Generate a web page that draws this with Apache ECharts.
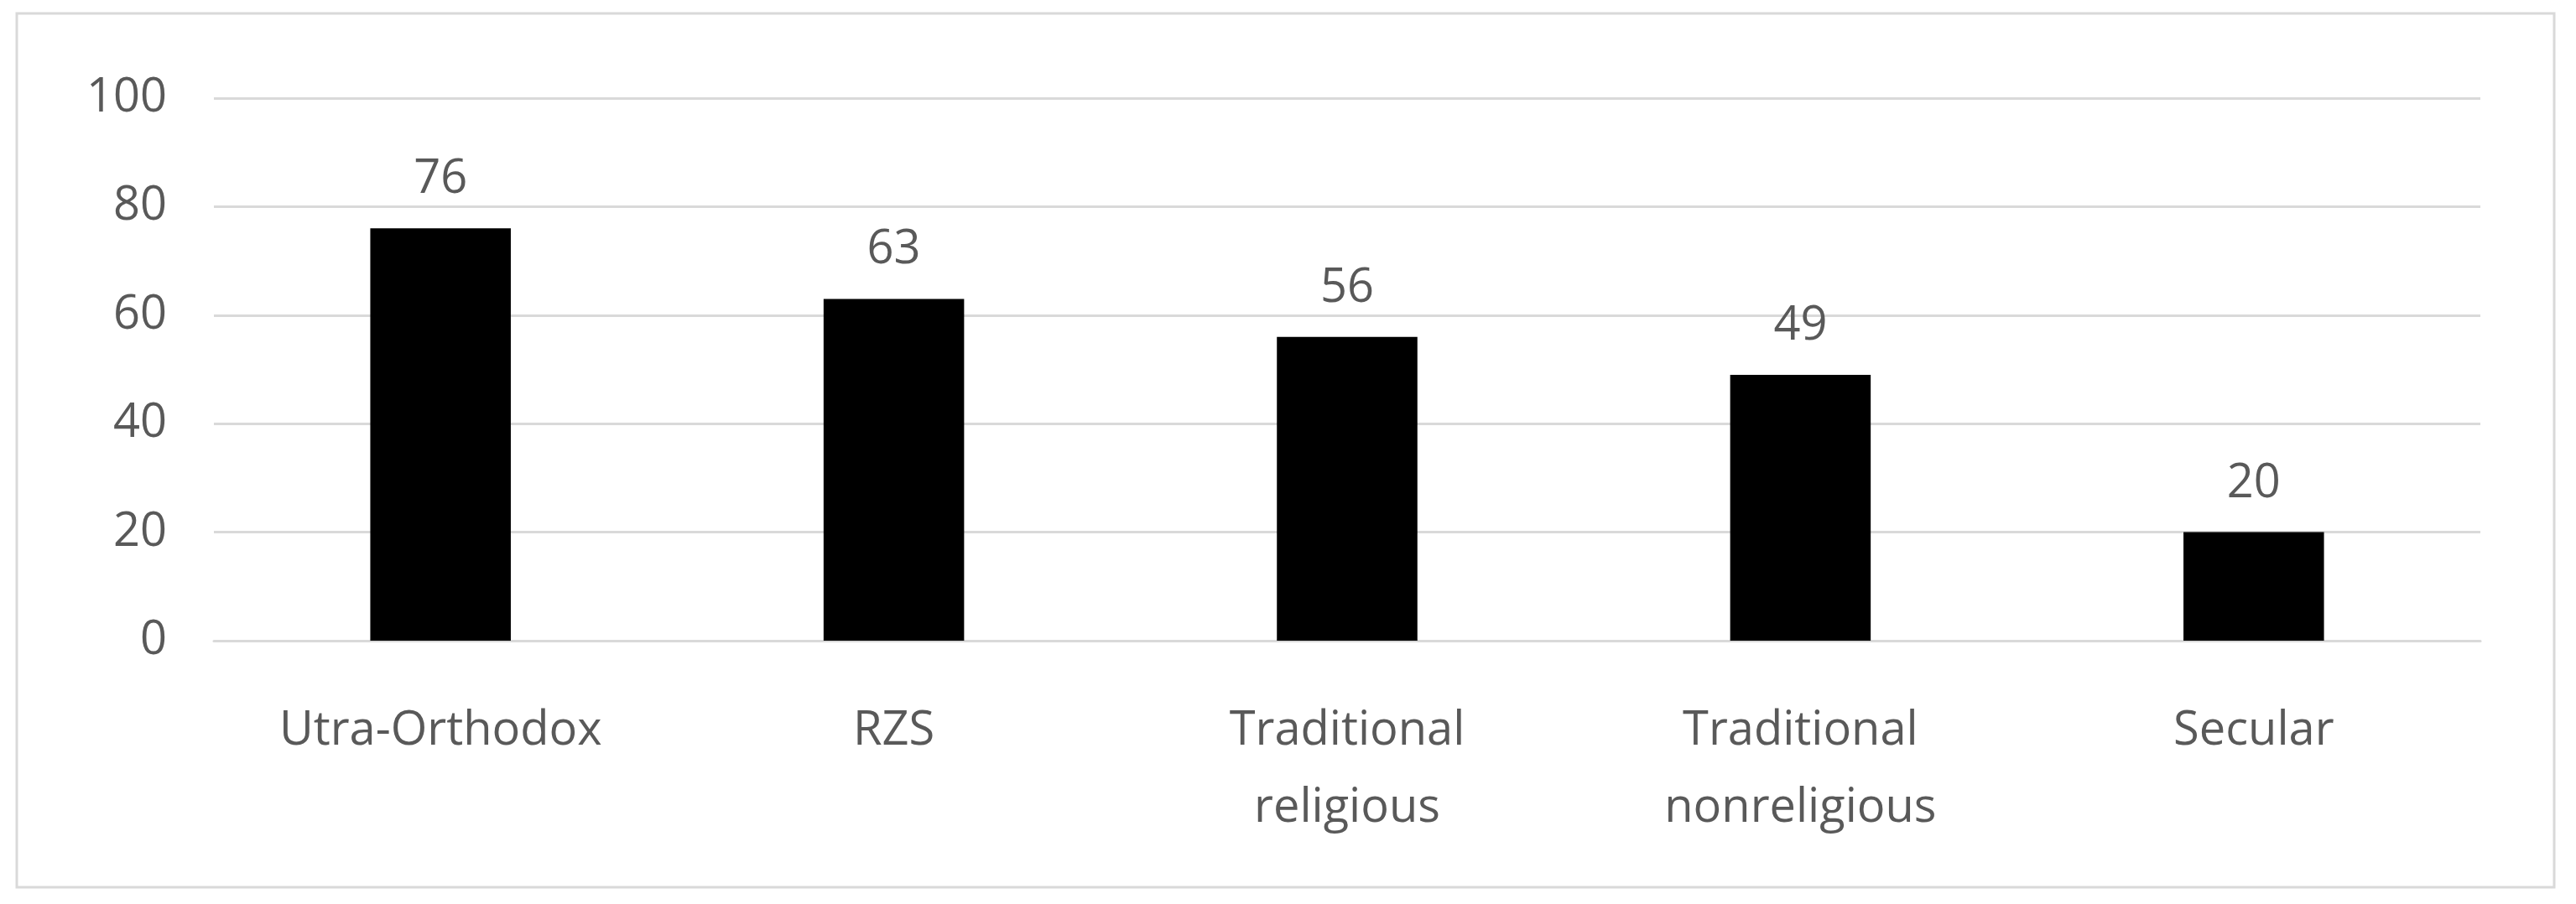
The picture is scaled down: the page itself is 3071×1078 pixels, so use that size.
<!DOCTYPE html>
<html>
<head>
<meta charset="utf-8">
<style>
html,body{margin:0;padding:0;background:#fff;}
#main{width:3071px;height:1078px;}
</style>
<script src="https://cdn.jsdelivr.net/npm/echarts@6/dist/echarts.min.js"></script>
</head>
<body>
<div id="main"></div>
<script>
var categories = ['Utra-Orthodox', 'RZS', 'Traditional\nreligious', 'Traditional\nnonreligious', 'Secular'];
var values = [76, 63, 56, 49, 20];

var chart = echarts.init(document.getElementById('main'));
var txt = '#595959';
chart.setOption({
    animation: false,
    backgroundColor: '#fff',
    graphic: [{
        type: 'rect',
        shape: {x: 20, y: 16, width: 3025, height: 1042},
        style: {fill: 'none', stroke: '#d9d9d9', lineWidth: 3}
    }],
    grid: {left: 255, right: 114, top: 117, bottom: 314},
    xAxis: {
        type: 'category',
        data: categories,
        axisLine: {lineStyle: {color: '#d9d9d9', width: 3}},
        axisTick: {show: false},
        axisLabel: {color: txt, fontSize: 56, fontFamily: 'Open Sans', margin: 62, lineHeight: 92}
    },
    yAxis: {
        type: 'value',
        min: 0, max: 100, interval: 20,
        axisLine: {show: false},
        axisTick: {show: false},
        axisLabel: {color: txt, fontSize: 56, fontFamily: 'Open Sans', margin: 56},
        splitLine: {lineStyle: {color: '#d9d9d9', width: 3}}
    },
    series: [{
        type: 'bar',
        data: values,
        barWidth: '31%',
        itemStyle: {color: '#000'},
        label: {show: true, position: 'top', distance: 30, color: txt, fontSize: 56, fontFamily: 'Open Sans'}
    }]
});
</script>
</body>
</html>
